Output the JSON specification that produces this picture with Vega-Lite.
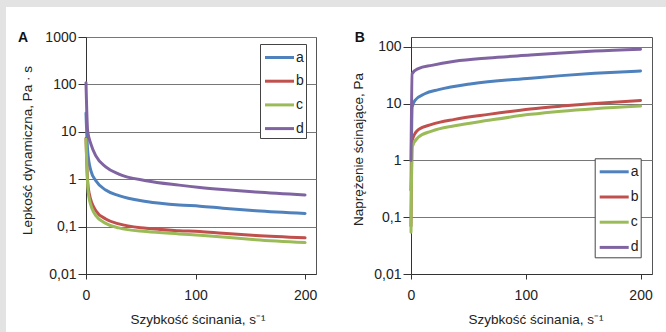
{
  "$schema": "https://vega.github.io/schema/vega-lite/v6.json",
  "background": "white",
  "padding": 0,
  "spacing": 0,
  "config": {
    "font": "Liberation Sans",
    "view": {"stroke": "#555", "strokeWidth": 1},
    "axis": {
      "labelFont": "Liberation Sans", "labelFontSize": 14, "labelColor": "#222",
      "titleFont": "Liberation Sans", "titleFontSize": 13.5, "titleFontWeight": "normal", "titleColor": "#222",
      "domainColor": "#333", "tickColor": "#333", "gridColor": "#777",
      "labelFlush": false, "labelOverlap": false
    },
    "legend": {
      "labelFont": "Liberation Sans", "labelFontSize": 14, "labelColor": "#222",
      "fillColor": "white", "strokeColor": "#444", "padding": 2,
      "symbolSize": 400, "symbolStrokeWidth": 3, "symbolType": "M-0.85,0H2.05",
      "labelOffset": 11
    },
    "title": {"fontSize": 14, "fontWeight": "bold", "anchor": "start", "frame": "group", "offset": 0, "baseline": "alphabetic", "color": "#111", "font": "Liberation Sans"}
  },
  "datasets": {
    "visc": [
      {"rate": 0, "series": "a", "value": 25}, {"rate": 1.5, "series": "a", "value": 3.96}, {"rate": 4.5, "series": "a", "value": 1.5}, {"rate": 9, "series": "a", "value": 0.93}, {"rate": 18, "series": "a", "value": 0.59}, {"rate": 30, "series": "a", "value": 0.45}, {"rate": 55, "series": "a", "value": 0.34}, {"rate": 85, "series": "a", "value": 0.286}, {"rate": 104, "series": "a", "value": 0.27}, {"rate": 125, "series": "a", "value": 0.245}, {"rate": 155, "series": "a", "value": 0.217}, {"rate": 200, "series": "a", "value": 0.19},
      {"rate": 0, "series": "b", "value": 7.3}, {"rate": 1.5, "series": "b", "value": 0.9}, {"rate": 3, "series": "b", "value": 0.49}, {"rate": 9, "series": "b", "value": 0.217}, {"rate": 18, "series": "b", "value": 0.145}, {"rate": 30, "series": "b", "value": 0.114}, {"rate": 55, "series": "b", "value": 0.092}, {"rate": 85, "series": "b", "value": 0.082}, {"rate": 104, "series": "b", "value": 0.0785}, {"rate": 125, "series": "b", "value": 0.072}, {"rate": 155, "series": "b", "value": 0.065}, {"rate": 200, "series": "b", "value": 0.058},
      {"rate": 0, "series": "c", "value": 7}, {"rate": 1.5, "series": "c", "value": 0.75}, {"rate": 3, "series": "c", "value": 0.38}, {"rate": 9, "series": "c", "value": 0.17}, {"rate": 18, "series": "c", "value": 0.117}, {"rate": 30, "series": "c", "value": 0.094}, {"rate": 55, "series": "c", "value": 0.0785}, {"rate": 85, "series": "c", "value": 0.07}, {"rate": 104, "series": "c", "value": 0.0656}, {"rate": 125, "series": "c", "value": 0.0605}, {"rate": 155, "series": "c", "value": 0.053}, {"rate": 200, "series": "c", "value": 0.046},
      {"rate": 0, "series": "d", "value": 108}, {"rate": 1.5, "series": "d", "value": 10.4}, {"rate": 4.5, "series": "d", "value": 5.5}, {"rate": 9, "series": "d", "value": 3.1}, {"rate": 18, "series": "d", "value": 1.83}, {"rate": 30, "series": "d", "value": 1.28}, {"rate": 55, "series": "d", "value": 0.93}, {"rate": 85, "series": "d", "value": 0.75}, {"rate": 104, "series": "d", "value": 0.67}, {"rate": 125, "series": "d", "value": 0.605}, {"rate": 155, "series": "d", "value": 0.535}, {"rate": 200, "series": "d", "value": 0.465}
    ],
    "stress": [
      {"rate": 0, "series": "a", "value": 0.3}, {"rate": 1, "series": "a", "value": 8.7}, {"rate": 3.5, "series": "a", "value": 11.5}, {"rate": 12, "series": "a", "value": 15}, {"rate": 24, "series": "a", "value": 17.7}, {"rate": 53, "series": "a", "value": 22.6}, {"rate": 104, "series": "a", "value": 28.2}, {"rate": 131, "series": "a", "value": 31.3}, {"rate": 160, "series": "a", "value": 34.3}, {"rate": 200, "series": "a", "value": 37.8},
      {"rate": 0, "series": "b", "value": 0.07}, {"rate": 1, "series": "b", "value": 2.26}, {"rate": 6.4, "series": "b", "value": 3.49}, {"rate": 18, "series": "b", "value": 4.32}, {"rate": 38, "series": "b", "value": 5.3}, {"rate": 67.5, "series": "b", "value": 6.5}, {"rate": 104, "series": "b", "value": 8.1}, {"rate": 131, "series": "b", "value": 9.1}, {"rate": 160, "series": "b", "value": 10.1}, {"rate": 200, "series": "b", "value": 11.4},
      {"rate": 0, "series": "c", "value": 0.0545}, {"rate": 1, "series": "c", "value": 1.72}, {"rate": 6.4, "series": "c", "value": 2.58}, {"rate": 18, "series": "c", "value": 3.3}, {"rate": 38, "series": "c", "value": 4.1}, {"rate": 67.5, "series": "c", "value": 5.1}, {"rate": 104, "series": "c", "value": 6.5}, {"rate": 131, "series": "c", "value": 7.4}, {"rate": 160, "series": "c", "value": 8.2}, {"rate": 200, "series": "c", "value": 9.1},
      {"rate": 0, "series": "d", "value": 1.0}, {"rate": 1, "series": "d", "value": 34}, {"rate": 6.4, "series": "d", "value": 41.6}, {"rate": 18, "series": "d", "value": 47.5}, {"rate": 38, "series": "d", "value": 56}, {"rate": 67.5, "series": "d", "value": 64}, {"rate": 104, "series": "d", "value": 72}, {"rate": 131, "series": "d", "value": 78.4}, {"rate": 160, "series": "d", "value": 84.9}, {"rate": 200, "series": "d", "value": 91.5}
    ],
    "empty": []
  },
  "resolve": {"scale": {"x": "independent", "y": "independent", "color": "independent"}, "legend": {"color": "independent"}},
  "hconcat": [
    {
      "width": 6, "height": 332,
      "data": {"name": "empty"},
      "mark": "rect",
      "view": {"fill": "#e3e3e3", "stroke": null}
    },
    {
      "spacing": 22,
      "resolve": {"scale": {"x": "independent", "y": "independent", "color": "independent"}, "legend": {"color": "independent"}},
      "vconcat": [
        {
          "width": 660, "height": 7,
          "data": {"name": "empty"},
          "mark": "rect",
          "view": {"fill": "#e3e3e3", "stroke": null}
        },
        {
          "spacing": 0,
          "resolve": {"scale": {"x": "independent", "y": "independent", "color": "independent"}, "legend": {"color": "independent"}},
          "hconcat": [
            {
              "width": 11, "height": 1,
              "data": {"name": "empty"},
              "mark": "rect",
              "view": {"fill": null, "stroke": null}
            },
            {
              "spacing": 32,
              "resolve": {"scale": {"x": "independent", "y": "independent", "color": "independent"}, "legend": {"color": "independent"}},
              "hconcat": [
                {
                  "width": 230, "height": 237,
                  "title": {"text": "A", "dx": -68, "dy": 19.4},
                  "data": {"name": "visc"},
                  "mark": {"type": "line", "strokeWidth": 3, "interpolate": "monotone", "strokeCap": "round"},
                  "encoding": {
                    "x": {"field": "rate", "type": "quantitative",
                      "scale": {"domain": [0, 210], "nice": false, "zero": false},
                      "axis": {"values": [0, 100, 200], "grid": false, "tickSize": 5, "labelPadding": 9,
                        "title": "Szybkość ścinania, s⁻¹", "titleX": 111.5, "titleY": 49, "titleBaseline": "alphabetic"}},
                    "y": {"field": "value", "type": "quantitative",
                      "scale": {"type": "log", "domain": [0.01, 1000], "nice": false},
                      "axis": {"values": [0.01, 0.1, 1, 10, 100, 1000], "labelExpr": "replace(format(datum.value, '~g'), '.', ',')",
                        "tickSize": 8, "labelPadding": 2, "grid": true,
                        "title": "Lepkość dynamiczna, Pa · s", "titleX": -54.5, "titleY": 113, "titleBaseline": "alphabetic"}},
                    "color": {"field": "series", "type": "nominal",
                      "scale": {"domain": ["a", "b", "c", "d"], "range": ["#4F81BD", "#C0504D", "#9BBB59", "#8064A2"]},
                      "legend": {"title": null, "orient": "none", "legendX": 174, "legendY": 7, "rowPadding": 4.7}}
                  }
                },
                {
                  "width": 241, "height": 237,
                  "title": {"text": "B", "dx": -56.3, "dy": 12.4},
                  "data": {"name": "stress"},
                  "mark": {"type": "line", "strokeWidth": 3, "interpolate": "monotone", "strokeCap": "round"},
                  "encoding": {
                    "x": {"field": "rate", "type": "quantitative",
                      "scale": {"domain": [0, 210], "nice": false, "zero": false},
                      "axis": {"values": [0, 100, 200], "grid": false, "tickSize": 5, "labelPadding": 9,
                        "title": "Szybkość ścinania, s⁻¹", "titleX": 124.5, "titleY": 49, "titleBaseline": "alphabetic"}},
                    "y": {"field": "value", "type": "quantitative",
                      "scale": {"type": "log", "domain": [0.01, 150], "nice": false},
                      "axis": {"values": [0.01, 0.1, 1, 10, 100], "labelExpr": "replace(format(datum.value, '~g'), '.', ',')",
                        "tickSize": 8, "labelPadding": 2, "grid": true,
                        "title": "Naprężenie ścinające, Pa", "titleX": -49, "titleY": 112, "titleBaseline": "alphabetic"}},
                    "color": {"field": "series", "type": "nominal",
                      "scale": {"domain": ["a", "b", "c", "d"], "range": ["#4F81BD", "#C0504D", "#9BBB59", "#8064A2"]},
                      "legend": {"title": null, "orient": "none", "legendX": 183.7, "legendY": 121.3, "rowPadding": 6.2}}
                  }
                }
              ]
            }
          ]
        }
      ]
    }
  ]
}
